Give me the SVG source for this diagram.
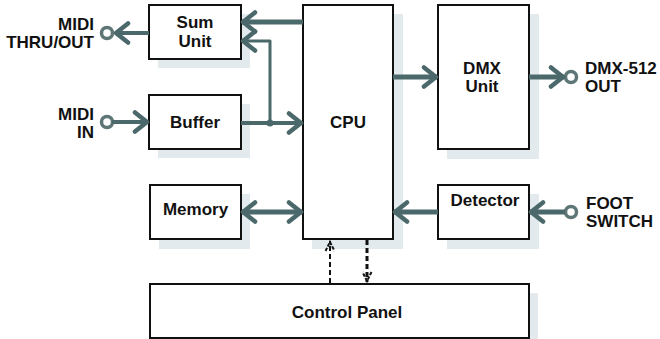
<svg xmlns="http://www.w3.org/2000/svg" width="660" height="339" viewBox="0 0 660 339">
<style>
.sh{fill:#e3eaee}
.bx{fill:#fff;stroke:#111;stroke-width:2}
.t{font-family:"Liberation Sans",Arial,sans-serif;font-weight:bold;font-size:17px;fill:#111}
.m{text-anchor:middle}
.e{text-anchor:end}
.w{fill:none;stroke:#4b686b;stroke-linecap:butt}
.port{fill:#fff;stroke:#5f7677;stroke-width:3.5}
.d{fill:none;stroke:#111;stroke-dasharray:5 3}
</style>
<defs>
<marker id="ah" markerUnits="userSpaceOnUse" markerWidth="20" markerHeight="26" viewBox="0 0 20 26" refX="16" refY="13" orient="auto-start-reverse">
<path d="M3,3.5 L15,13 L3,22.5" fill="none" stroke="#4b686b" stroke-width="4.5" stroke-linecap="round" stroke-linejoin="round"/>
</marker>
<marker id="dh" markerUnits="userSpaceOnUse" markerWidth="14" markerHeight="14" viewBox="0 0 14 14" refX="12" refY="7" orient="auto">
<path d="M2,2.5 L11,7 L2,11.5" fill="none" stroke="#111" stroke-width="2" stroke-dasharray="3.5 1.5"/>
</marker>
</defs>
<rect width="660" height="339" fill="#fff"/>

<g id="sum-unit">
<rect class="sh" x="158" y="14" width="92" height="54"/>
<rect class="bx" x="149" y="5" width="92" height="54"/>
<text class="t m" x="195" y="28">Sum</text>
<text class="t m" x="195" y="46.5">Unit</text>
</g>
<g id="buffer">
<rect class="sh" x="158" y="104" width="92" height="54"/>
<rect class="bx" x="149" y="95" width="92" height="54"/>
<text class="t m" x="195" y="128">Buffer</text>
</g>
<g id="memory">
<rect class="sh" x="159" y="194" width="91" height="55"/>
<rect class="bx" x="150" y="185" width="91" height="54"/>
<text class="t m" x="195.5" y="214.5">Memory</text>
</g>
<g id="cpu">
<rect class="sh" x="312" y="14" width="91" height="235"/>
<rect class="bx" x="303" y="5" width="90" height="234"/>
<text class="t m" x="348" y="128">CPU</text>
</g>
<g id="dmx-unit">
<rect class="sh" x="447" y="14" width="92" height="145"/>
<rect class="bx" x="438" y="5" width="91" height="144"/>
<text class="t m" x="482" y="74">DMX</text>
<text class="t m" x="482" y="91.5">Unit</text>
</g>
<g id="detector">
<rect class="sh" x="447" y="194" width="92" height="55"/>
<rect class="bx" x="438" y="185" width="91" height="54"/>
<text class="t m" x="485" y="206">Detector</text>
</g>
<g id="control-panel">
<rect class="sh" x="159" y="293" width="379" height="54"/>
<rect class="bx" x="150" y="284" width="379" height="54"/>
<text class="t m" x="347" y="318">Control Panel</text>
</g>

<g id="midi-thru-out">
<circle class="port" cx="107" cy="33" r="5.5"/>
<text class="t e" x="94" y="29.5">MIDI</text>
<text class="t e" x="94" y="48">THRU/OUT</text>
</g>
<g id="midi-in">
<circle class="port" cx="107" cy="122" r="5.5"/>
<text class="t e" x="94" y="119.5">MIDI</text>
<text class="t e" x="94" y="138">IN</text>
</g>
<g id="dmx-512-out">
<circle class="port" cx="571" cy="77" r="5.5"/>
<text class="t" x="585" y="74">DMX-512</text>
<text class="t" x="585" y="91.5">OUT</text>
</g>
<g id="foot-switch">
<circle class="port" cx="571" cy="212" r="5.5"/>
<text class="t" x="586" y="208.5">FOOT</text>
<text class="t" x="586" y="227">SWITCH</text>
</g>

<g id="connectors">
<path class="w" d="M303,22 H242" stroke-width="5" marker-end="url(#ah)"/>
<path class="w" d="M270,123 V41 H242" stroke-width="3" stroke-linejoin="round" marker-end="url(#ah)"/>
<path class="w" d="M241,123 H302" stroke-width="4" marker-end="url(#ah)"/>
<circle cx="270" cy="123" r="3.5" fill="#4b686b"/>
<path class="w" d="M149,33 H115" stroke-width="4" marker-end="url(#ah)"/>
<path class="w" d="M112,122 H148" stroke-width="4" marker-end="url(#ah)"/>
<path class="w" d="M242,212 H302" stroke-width="5" marker-start="url(#ah)" marker-end="url(#ah)"/>
<path class="w" d="M393,77 H437" stroke-width="5" marker-end="url(#ah)"/>
<path class="w" d="M529,77 H564" stroke-width="5" marker-end="url(#ah)"/>
<path class="w" d="M438,212 H394" stroke-width="5" marker-end="url(#ah)"/>
<path class="w" d="M565,212 H530" stroke-width="5" marker-end="url(#ah)"/>
<path class="d" d="M330,283 V241" stroke-width="2" marker-end="url(#dh)"/>
<path class="d" d="M367,240 V282" stroke-width="3" marker-end="url(#dh)"/>
</g>
</svg>
